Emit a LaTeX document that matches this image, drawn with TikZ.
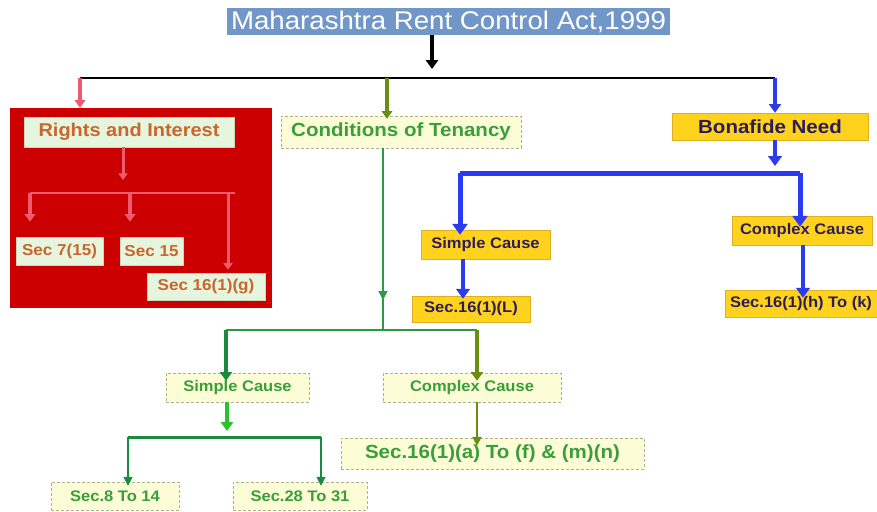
\documentclass[tikz,border=0pt]{standalone}
\usepackage{fontspec}
\setmainfont{Liberation Sans}[FakeStretch=1.08]
\usetikzlibrary{positioning}
\usetikzlibrary{arrows.meta}
\definecolor{titleblue}{HTML}{7097C8}
\definecolor{rightsred}{HTML}{CC0000}
\definecolor{pinkline}{HTML}{EE5A6E}
\definecolor{mintfill}{HTML}{E6F6DE}
\definecolor{mintdraw}{HTML}{C8D8B8}
\definecolor{rustorange}{HTML}{C8662E}
\definecolor{creamfill}{HTML}{FCFCD6}
\definecolor{creamdraw}{HTML}{B0B090}
\definecolor{leafgreen}{HTML}{3A9E3A}
\definecolor{goldfill}{HTML}{FFD21E}
\definecolor{golddraw}{HTML}{E0B020}
\definecolor{navytext}{HTML}{2C1C5C}
\definecolor{bluearrow}{HTML}{2B3CF0}
\definecolor{darkgreen}{HTML}{1A8A3E}
\definecolor{olive}{HTML}{6A8E12}
\definecolor{brightgreen}{HTML}{2CC02C}
\definecolor{thingreen}{HTML}{2A9A44}

\begin{document}
\begin{tikzpicture}[x=1pt, y=-1pt,
		box/.style={rectangle, inner sep=0pt, font=\bfseries},
		titlebox/.style={rectangle, inner sep=0pt, fill=titleblue, text=white},
		mintbox/.style={box, fill=mintfill, draw=mintdraw, text=rustorange},
		creambox/.style={box, fill=creamfill, draw=creamdraw, densely dashed, text=leafgreen},
		goldbox/.style={box, fill=goldfill, draw=golddraw, text=navytext},
		fatarrow/.style={line width=#1, -{Triangle[width=3*#1, length=2.2*#1]}},
		thinarrow/.style={line width=#1, -{Triangle[width=9pt, length=9pt]}}
	]
	\useasboundingbox (0,0) rectangle (877,511);
	
	% top level
	\node at (448.5,21.5)[titlebox, minimum width=443, minimum height=27, font=\fontsize{25.6}{26}\selectfont](title){Maharashtra Rent Control Act,1999};
	\coordinate (tb) at (432,69);
	\coordinate (busL) at (80,78);
	\coordinate (busC) at (387,78);
	\coordinate (busR) at (775,78);
	\draw[fatarrow=4pt] (title.south -| tb) -- (tb);
	\draw[line width=2.5pt] (busL) -- (busR);
	
	% rights and interest
	\node at (141,208)[rectangle, fill=rightsred, minimum width=262, minimum height=200](rightsbg){};
	\node at (129,132)[mintbox, minimum width=210, minimum height=30, font=\bfseries\fontsize{18.5}{19}\selectfont](rights){Rights and Interest};
	\node at (59.5,251)[mintbox, minimum width=87, minimum height=28, font=\bfseries\fontsize{15.8}{16}\selectfont](sec715){Sec 7(15)};
	\node at (151.5,251)[mintbox, minimum width=63, minimum height=28, font=\bfseries\fontsize{15.8}{16}\selectfont](sec15){Sec 15};
	\node at (206,286.5)[mintbox, minimum width=118, minimum height=27, font=\bfseries\fontsize{15.8}{16}\selectfont](sec161g){Sec 16(1)(g)};
	\draw[fatarrow=3.5pt, pinkline] (busL) -- (busL |- rightsbg.north);
	\coordinate (rb) at (123,180);
	\coordinate (rbusL) at (30,193);
	\coordinate (rbusR) at (235,193);
	\draw[fatarrow=3pt, pinkline] (rights.south -| rb) -- (rb);
	\draw[line width=2.5pt, pinkline] (rbusL) -- (rbusR);
	\draw[fatarrow=3.5pt, pinkline] (rbusL) -- ([yshift=15]rbusL |- sec715.north);
	\draw[fatarrow=3.5pt, pinkline] (rbusL -| 130,0) -- ([yshift=15]sec15.north -| 130,0);
	\draw[fatarrow=3pt, pinkline] (rbusL -| 228,0) -- ([yshift=3]sec161g.north -| 228,0);
	
	% conditions of tenancy
	\node at (401,132)[creambox, minimum width=240, minimum height=32, font=\bfseries\fontsize{19}{20}\selectfont](cond){Conditions of Tenancy};
	\node at (237.5,387.5)[creambox, minimum width=143, minimum height=29, font=\bfseries\fontsize{15.3}{16}\selectfont](gsimple){Simple Cause};
	\node at (472,387.5)[creambox, minimum width=178, minimum height=29, font=\bfseries\fontsize{15.3}{16}\selectfont](gcomplex){Complex Cause};
	\node at (115,496)[creambox, minimum width=128, minimum height=28, font=\bfseries\fontsize{15.3}{16}\selectfont](sec814){Sec.8 To 14};
	\node at (300,496)[creambox, minimum width=134, minimum height=28, font=\bfseries\fontsize{15.3}{16}\selectfont](sec2831){Sec.28 To 31};
	\node at (492.5,453.5)[creambox, minimum width=303, minimum height=31, font=\bfseries\fontsize{19}{20}\selectfont](sec161a){Sec.16(1)(a) To (f) \& (m)(n)};
	\draw[fatarrow=3.5pt, olive] (busC) -- ([yshift=-3]busC |- cond.north);
	\coordinate (gc) at (383,330);
	\coordinate (gbusL) at (226,330);
	\coordinate (gbusR) at (477,330);
	\draw[line width=1.5pt, thingreen] (cond.south -| gc) -- (gc);
	\draw[thinarrow=1.5pt, thingreen] (cond.south -| gc) -- (383,300);
	\draw[line width=2pt, thingreen] (gbusL) -- (gbusR);
	\draw[fatarrow=4pt, darkgreen] (gbusL) -- ([yshift=-8]gbusL |- gsimple.north);
	\draw[fatarrow=4pt, olive] (gbusR) -- ([yshift=-8]gbusR |- gcomplex.north);
	\coordinate (sb) at (227,431);
	\coordinate (sbusL) at (128,437);
	\coordinate (sbusR) at (321,437);
	\draw[fatarrow=4pt, brightgreen] (gsimple.south -| sb) -- (sb);
	\draw[line width=3pt, darkgreen] (sbusL) -- (sbusR);
	\draw[thinarrow=1.5pt, darkgreen] (sbusL) -- ([yshift=-4]sbusL |- sec814.north);
	\draw[thinarrow=1.5pt, darkgreen] (sbusR) -- ([yshift=-4]sbusR |- sec2831.north);
	\draw[thinarrow=2pt, olive] (gcomplex.south -| gbusR) -- ([yshift=-8]gbusR |- sec161a.north);
	
	% bonafide need
	\node at (770,126.5)[goldbox, minimum width=196, minimum height=27, font=\bfseries\fontsize{19}{20}\selectfont](bona){Bonafide Need};
	\node at (485.5,244.5)[goldbox, minimum width=129, minimum height=29, font=\bfseries\fontsize{15.3}{16}\selectfont](bsimple){Simple Cause};
	\node at (471,309)[goldbox, minimum width=118, minimum height=26, font=\bfseries\fontsize{15.3}{16}\selectfont](sec161l){Sec.16(1)(L)};
	\node at (802,230.5)[goldbox, minimum width=140, minimum height=29, font=\bfseries\fontsize{15.3}{16}\selectfont](bcomplex){Complex Cause};
	\node at (801,303.5)[goldbox, minimum width=152, minimum height=27, font=\bfseries\fontsize{15.3}{16}\selectfont](sec161h){Sec.16(1)(h) To (k)};
	\draw[fatarrow=4pt, bluearrow] (busR) -- (busR |- bona.north);
	\coordinate (bb) at (775,166);
	\coordinate (bbusL) at (460,173);
	\coordinate (bbusR) at (800,173);
	\draw[fatarrow=4.5pt, bluearrow] (bona.south -| bb) -- (bb);
	\draw[line width=5pt, bluearrow] (bbusL) -- (bbusR);
	\draw[fatarrow=5pt, bluearrow] (bbusL) -- ([yshift=-5]bbusL |- bsimple.north);
	\draw[fatarrow=5pt, bluearrow] (bbusR) -- ([yshift=-11]bbusR |- bcomplex.north);
	\draw[fatarrow=4.5pt, bluearrow] (bsimple.south -| 463,0) -- ([yshift=-3]sec161l.north -| 463,0);
	\draw[fatarrow=4.5pt, bluearrow] (bcomplex.south -| 803,0) -- ([yshift=-8]sec161h.north -| 803,0);
\end{tikzpicture}
\end{document}
